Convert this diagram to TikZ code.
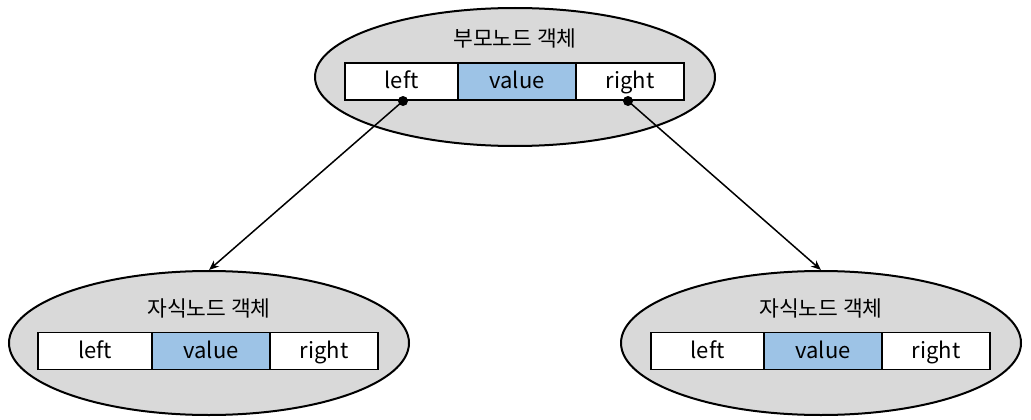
\documentclass[tikz,border=0pt]{standalone}
\usepackage{fontspec}
\setmainfont{Noto Sans CJK KR}
\usetikzlibrary{shapes.geometric,arrows.meta}
\definecolor{objgray}{HTML}{D9D9D9}
\definecolor{valblue}{HTML}{9DC3E6}
\tikzset{
  obj/.style={ellipse, draw=black, line width=2pt, fill=objgray, minimum width=400pt, minimum height=138pt, inner sep=0pt},
  cell/.style={rectangle, draw=black, line width=1.2pt, fill=white, minimum height=37pt, inner sep=0pt, text height=17pt, text depth=3pt, font=\fontsize{22pt}{26pt}\selectfont},
  valcell/.style={cell, fill=valblue},
  title/.style={font=\fontsize{21.5pt}{26pt}\selectfont, inner sep=0pt},
  dot/.style={circle, fill=black, inner sep=0pt, minimum size=10pt},
  link/.style={line width=1.5pt, -{Stealth[length=10pt,width=8pt]}}
}
\begin{document}
\begin{tikzpicture}[x=1pt,y=-1pt]
\useasboundingbox (0,0) rectangle (1031,420);
% parent
\node[obj] (parent) at (515,77) {};
\node[title] (ptitle) at (515,38) {부모노드 객체};
\node[cell, minimum width=113pt] (pl) at (401.5,81.5) {left};
\node[valcell, minimum width=118pt] (pv) at (517,81.5) {value};
\node[cell, minimum width=108pt] (pr) at (630,81.5) {right};
% left child
\node[obj, minimum height=144pt] (lc) at (209,343) {};
\node[title] (lctitle) at (209,308) {자식노드 객체};
\node[cell, minimum width=114pt] (ll) at (95,351) {left};
\node[valcell, minimum width=118pt] (lv) at (211,351) {value};
\node[cell, minimum width=108pt] (lr) at (324,351) {right};
% right child
\node[obj, minimum height=144pt] (rc) at (821,343) {};
\node[title] (rctitle) at (821,308) {자식노드 객체};
\node[cell, minimum width=113pt] (rl) at (707.5,351) {left};
\node[valcell, minimum width=118pt] (rv) at (823,351) {value};
\node[cell, minimum width=108pt] (rr) at (936,351) {right};
% pointers
\node[dot] (dl) at (403,101) {};
\node[dot] (dr) at (628,101) {};
\draw[link] (dl.center) -- (lc.north);
\draw[link] (dr.center) -- (rc.north);
\end{tikzpicture}
\end{document}
